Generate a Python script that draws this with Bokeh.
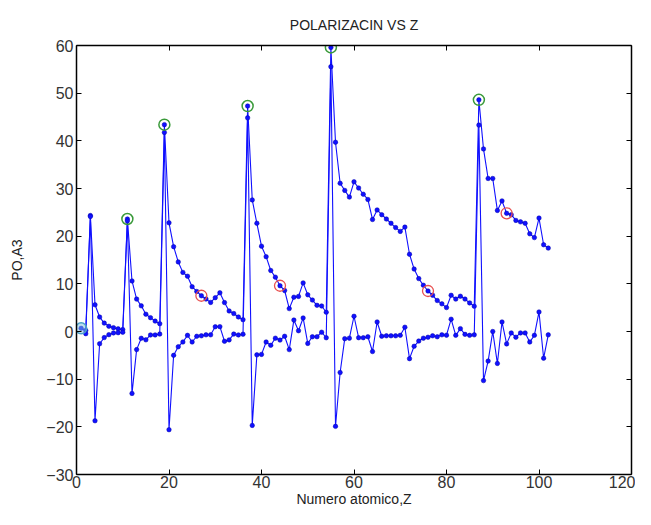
from bokeh.plotting import figure
from bokeh.models import LinearAxis, Range1d, FixedTicker, ColumnDataSource
from bokeh.embed import file_html
from bokeh.resources import INLINE

# Atomic number
z_values = list(range(1, 103))
# Polarizability (A^3)
alpha_values = [
    0.667, 0.205, 24.33, 5.60, 3.03, 1.76, 1.10, 0.802, 0.557, 0.396,
    23.6, 10.6, 6.8, 5.38, 3.63, 2.90, 2.18, 1.641, 43.4, 22.8,
    17.8, 14.6, 12.4, 11.6, 9.4, 8.4, 7.5, 6.8, 6.1, 7.1,
    8.12, 6.07, 4.31, 3.77, 3.05, 2.484, 47.3, 27.6, 22.7, 17.9,
    15.7, 12.8, 11.4, 9.6, 8.6, 4.8, 7.2, 7.36, 10.2, 7.7,
    6.6, 5.5, 5.35, 4.044, 59.6, 39.7, 31.1, 29.6, 28.2, 31.4,
    30.1, 28.8, 27.7, 23.5, 25.5, 24.5, 23.6, 22.7, 21.8, 21.0,
    21.9, 16.2, 13.1, 11.1, 9.7, 8.5, 7.6, 6.5, 5.8, 5.02,
    7.6, 6.8, 7.4, 6.8, 6.0, 5.3, 48.6, 38.3, 32.1, 32.1,
    25.4, 27.4, 24.8, 24.5, 23.3, 23.0, 22.7, 20.5, 19.7, 23.8,
    18.2, 17.5,
]
# Successive difference series, plotted at Z = 2..102
diff_z = list(range(2, 103))
diff_values = [
    -0.46, 24.13, -18.73, -2.57, -1.27, -0.66, -0.30, -0.25, -0.16,
    23.2, -13.0, -3.8, -1.42, -1.75, -0.73, -0.72, -0.54, 41.76, -20.6,
    -5.0, -3.2, -2.2, -0.8, -2.2, -1.0, -0.9, -0.7, -0.7, 1.0,
    1.02, -2.05, -1.76, -0.54, -0.72, -0.57, 44.82, -19.7, -4.9, -4.8,
    -2.2, -2.9, -1.4, -1.8, -1.0, -3.8, 2.4, 0.16, 2.84, -2.5,
    -1.1, -1.1, -0.15, -1.31, 55.56, -19.9, -8.6, -1.5, -1.4, 3.2,
    -1.3, -1.3, -1.1, -4.2, 2.0, -1.0, -0.9, -0.9, -0.9, -0.8,
    0.9, -5.7, -3.1, -2.0, -1.4, -1.2, -0.9, -1.1, -0.7, -0.78,
    2.58, -0.8, 0.6, -0.6, -0.8, -0.7, 43.3, -10.3, -6.2, 0.0,
    -6.7, 2.0, -2.6, -0.3, -1.2, -0.3, -0.3, -2.2, -0.8, 4.1,
    -5.6, -0.7,
]
# Highlighted points
h_z = [1]
h_alpha = [0.667]
alkali_z = [11, 19, 37, 55, 87]
alkali_alpha = [23.6, 43.4, 47.3, 59.6, 48.6]
red_z = [27, 44, 76, 93]
red_alpha = [7.5, 9.6, 8.5, 24.8]

x_ticks = [0, 20, 40, 60, 80, 100, 120]
y_ticks = [-30, -20, -10, 0, 10, 20, 30, 40, 50, 60]

FONT = "Liberation Sans"

p = figure(width=635, height=509, output_backend="svg", toolbar_location=None,
           x_range=Range1d(0, 120), y_range=Range1d(-30, 60),
           min_border_left=76, min_border_right=4, min_border_top=45,
           min_border_bottom=30, title="POLARIZACIN VS Z")
p.title.align = "center"
p.title.text_font = FONT
p.title.text_font_size = "14px"
p.title.text_font_style = "normal"
p.title.text_color = "#222222"
p.title.standoff = 25
p.outline_line_color = None
p.xgrid.visible = False
p.ygrid.visible = False
p.background_fill_color = "white"

for ax in (p.xaxis[0], p.yaxis[0]):
    ax.major_tick_in = 5
    ax.major_tick_out = 0
    ax.minor_tick_line_color = None
    ax.axis_line_width = 1.5
    ax.axis_line_color = "black"
    ax.major_tick_line_color = "black"
    ax.major_label_text_font = FONT
    ax.major_label_text_font_size = "16px"
    ax.major_label_text_color = "#333333"
    ax.axis_label_text_font = FONT
    ax.axis_label_text_font_size = "14px"
    ax.axis_label_text_font_style = "normal"
    ax.axis_label_text_color = "#222222"

p.xaxis[0].ticker = FixedTicker(ticks=x_ticks)
p.yaxis[0].ticker = FixedTicker(ticks=y_ticks)
p.xaxis[0].axis_label = "Numero atomico,Z"
p.yaxis[0].axis_label = "PO,A3"
p.xaxis[0].major_label_standoff = 1
p.xaxis[0].axis_label_standoff = 0
p.yaxis[0].major_label_standoff = 3
p.yaxis[0].axis_label_standoff = 18

top = LinearAxis(ticker=FixedTicker(ticks=x_ticks),
                 major_label_overrides={t: "" for t in x_ticks},
                 major_tick_in=5, major_tick_out=0, minor_tick_line_color=None,
                 axis_line_width=1.5, major_label_standoff=0)
right = LinearAxis(ticker=FixedTicker(ticks=y_ticks),
                   major_label_overrides={t: "" for t in y_ticks},
                   major_tick_in=5, major_tick_out=0, minor_tick_line_color=None,
                   axis_line_width=1.5, major_label_standoff=0)
p.add_layout(top, "above")
p.add_layout(right, "right")

src_a = ColumnDataSource(dict(z=z_values, a=alpha_values))
src_d = ColumnDataSource(dict(z=diff_z, d=diff_values))

BLUE = "#1010ff"
p.line("z", "a", source=src_a, line_color=BLUE, line_width=1.1)
p.scatter("z", "a", source=src_a, size=4.5, fill_color=BLUE, line_color="#0000aa", line_width=0.5)
p.line("z", "d", source=src_d, line_color=BLUE, line_width=1.1)
p.scatter("z", "d", source=src_d, size=4.5, fill_color=BLUE, line_color="#0000aa", line_width=0.5)

p.scatter(h_z, h_alpha, size=11, fill_color="#80c0e0", fill_alpha=0.5, line_color="#4aa0c8", line_width=1.5)
p.scatter(alkali_z, alkali_alpha, size=11, fill_color=None, line_color="#3a9a3a", line_width=1.5)
p.scatter(red_z, red_alpha, size=11, fill_color=None, line_color="#e85050", line_width=1.3)

open("out.html", "w").write(file_html(p, INLINE))
